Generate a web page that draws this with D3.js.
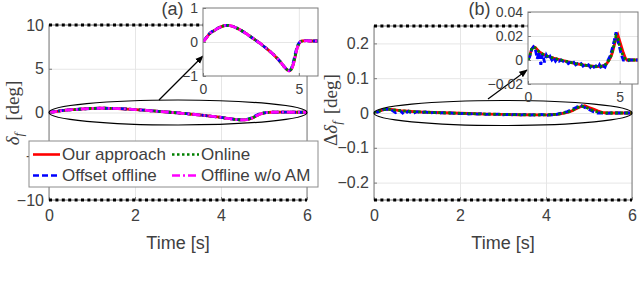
<!DOCTYPE html>
<html>
<head>
<meta charset="utf-8">
<script src="https://cdn.jsdelivr.net/npm/d3@7"></script>
<style>
  body { margin: 0; background: #fff; }
  text { font-family: "Liberation Sans", Arial, Helvetica, sans-serif; fill: #404040; }
</style>
</head>
<body>
<div id="chart"></div>
<script>
// time axes (s)
var timeA = [0,0.2,0.4,0.6,0.8,1.0,1.2,1.4,1.6,1.8,2.0,2.2,2.4,2.6,2.8,3.0,3.2,3.4,3.6,3.8,4.0,4.2,4.4,4.5,4.6,4.7,4.8,4.9,5.0,5.1,5.2,5.4,5.6,5.8,6.0];
// steering angle delta_f [deg], panel (a)
var ourA     = [0,0.14,0.27,0.34,0.41,0.46,0.49,0.48,0.45,0.40,0.34,0.27,0.19,0.11,0.03,-0.05,-0.14,-0.23,-0.33,-0.44,-0.56,-0.70,-0.82,-0.85,-0.81,-0.68,-0.45,-0.20,-0.06,0.01,0.03,0.04,0.03,0.03,0.03];
var onlineA  = [0,0.15,0.27,0.34,0.41,0.46,0.49,0.48,0.45,0.40,0.34,0.27,0.19,0.11,0.03,-0.05,-0.14,-0.23,-0.33,-0.44,-0.56,-0.70,-0.82,-0.85,-0.80,-0.66,-0.43,-0.19,-0.05,0.01,0.03,0.04,0.03,0.03,0.03];
var offsetA  = [0,0.16,0.28,0.35,0.41,0.46,0.49,0.48,0.45,0.40,0.34,0.27,0.19,0.11,0.03,-0.05,-0.14,-0.23,-0.33,-0.44,-0.56,-0.70,-0.82,-0.84,-0.78,-0.62,-0.38,-0.16,-0.04,0.02,0.03,0.04,0.03,0.03,0.03];
var noAmA    = [0,0.14,0.27,0.34,0.41,0.46,0.49,0.48,0.45,0.40,0.34,0.27,0.19,0.11,0.03,-0.05,-0.14,-0.23,-0.33,-0.44,-0.56,-0.70,-0.82,-0.85,-0.81,-0.68,-0.45,-0.20,-0.06,0.01,0.03,0.04,0.03,0.03,0.03];

// steering correction Delta delta_f [deg], panel (b)
var timeB   = [0,0.1,0.2,0.3,0.4,0.6,0.8,1.0,1.4,1.8,2.2,2.6,3.0,3.4,3.8,4.1,4.3,4.5,4.6,4.7,4.8,4.9,5.0,5.1,5.2,5.3,5.4,5.6,6.0];
var ourB    = [0,0.004,0.009,0.011,0.0105,0.007,0.005,0.0035,0.0015,0,-0.0015,-0.003,-0.004,-0.005,-0.0055,-0.005,-0.003,0.002,0.006,0.012,0.018,0.021,0.016,0.011,0.006,0.002,0,0,0];
var onlineB = [0,0.004,0.009,0.011,0.010,0.007,0.005,0.0035,0.0015,0,-0.0015,-0.003,-0.004,-0.005,-0.0055,-0.005,-0.003,0.002,0.007,0.013,0.020,0.018,0.012,0.007,0.003,0.001,0,0,0];
var timeOffB = [0,0.1,0.2,0.3,0.4,0.5,0.6,0.7,0.8,0.9,1.0,1.1,1.2,1.3,1.4,1.5,1.6,1.7,1.8,1.9,2.0,2.1,2.2,2.3,2.4,2.5,2.6,2.7,2.8,2.9,3.0,3.1,3.2,3.3,3.4,3.5,3.6,3.7,3.8,3.9,4.0,4.1,4.2,4.3,4.4,4.5,4.6,4.7,4.8,4.9,5.0,5.1,5.2,5.3,5.4,5.5,5.6,5.7,5.8,5.9,6.0];
var offsetB = [0,0.003,0.009,0.011,0.009,0.001,0.007,-0.004,0.005,-0.002,0.004,0.001,0.003,0.000,0.002,-0.001,0.001,-0.001,0.000,-0.001,-0.002,-0.001,-0.003,-0.002,-0.003,-0.002,-0.004,-0.003,-0.004,-0.003,-0.005,-0.004,-0.005,-0.004,-0.006,-0.004,-0.006,-0.005,-0.007,-0.004,-0.007,-0.005,-0.006,-0.002,0.001,0.004,0.010,0.016,0.023,0.016,0.010,0.004,0.000,0.000,-0.001,0.000,0.000,0.000,0.000,0.000,0.000];

var seriesNames = ["Our approach", "Online", "Offset offline", "Offline w/o AM"];
var seriesColors = ["#ff0000", "#008000", "#0000ff", "#ff00ff"];
var seriesDash = [null, "2.5,2.5", "6,3", "8,3,2,3"];

var xTicks = [0, 2, 4, 6];
var yTicksA = [-10, -5, 0, 5, 10];
var yTicksB = [-0.2, -0.1, 0, 0.1, 0.2];
var limitA = 10, limitB = 0.25;
var insetXTicks = [0, 5];
var insetYTicksA = [-1, 0, 1];
var insetYTicksB = [-0.02, 0, 0.02, 0.04];

var W = 640, H = 286;
var svg = d3.select("#chart").append("svg")
    .attr("width", W)
    .attr("height", H);

var defs = svg.append("defs");
defs.append("marker")
    .attr("id", "arrow")
    .attr("viewBox", "0 0 10 10")
    .attr("refX", 9).attr("refY", 5)
    .attr("markerWidth", 7).attr("markerHeight", 7)
    .attr("orient", "auto")
  .append("path")
    .attr("d", "M0,1 L10,5 L0,9 Z")
    .attr("fill", "#000");

var clipCount = 0;

// draws one set of axes (grid, box, ticks) and returns scales + plot group
function makeAxes(left, right, top, bottom, xDom, yDom, xT, yT, fmt, fs, xPad, opts) {
    var x = d3.scaleLinear().domain(xDom).range([left, right]);
    var y = d3.scaleLinear().domain(yDom).range([bottom, top]);
    var g = svg.append("g");

    if (opts.background) {
        g.append("rect")
            .attr("x", left).attr("y", top)
            .attr("width", right - left).attr("height", bottom - top)
            .attr("fill", "#fff");
    }

    // grid
    var gx = g.append("g")
        .attr("transform", "translate(0," + bottom + ")")
        .call(d3.axisBottom(x).tickValues(opts.gridX || xT).tickSize(-(bottom - top)).tickFormat(""));
    var gy = g.append("g")
        .attr("transform", "translate(" + left + ",0)")
        .call(d3.axisLeft(y).tickValues(opts.gridY || yT).tickSize(-(right - left)).tickFormat(""));
    [gx, gy].forEach(function(a) {
        a.select(".domain").remove();
        a.selectAll("line").attr("stroke", "#e6e6e6").attr("stroke-width", 1);
    });

    clipCount++;
    var cid = "clip" + clipCount;
    defs.append("clipPath").attr("id", cid)
      .append("rect")
        .attr("x", left).attr("y", top - 2)
        .attr("width", right - left).attr("height", bottom - top + 4);
    var plot = g.append("g").attr("clip-path", "url(#" + cid + ")");

    // box
    g.append("rect")
        .attr("x", left).attr("y", top)
        .attr("width", right - left).attr("height", bottom - top)
        .attr("fill", "none")
        .attr("stroke", "#7a7a7a")
        .attr("stroke-width", 1);

    var ax = g.append("g")
        .attr("transform", "translate(0," + bottom + ")")
        .call(d3.axisBottom(x).tickValues(xT).tickSizeInner(-3).tickSizeOuter(0).tickPadding(xPad).tickFormat(d3.format("d")));
    var ay = g.append("g")
        .attr("transform", "translate(" + left + ",0)")
        .call(d3.axisLeft(y).tickValues(yT).tickSizeInner(-3).tickSizeOuter(0).tickPadding(5).tickFormat(fmt));
    [ax, ay].forEach(function(a) {
        a.select(".domain").remove();
        a.selectAll("line").attr("stroke", "#7a7a7a");
        a.selectAll("text")
            .attr("font-size", fs)
            .attr("font-family", "Liberation Sans, Arial, sans-serif")
            .attr("fill", "#404040");
    });

    return { x: x, y: y, g: g, plot: plot };
}

function drawLine(ax, t, v, i, curve) {
    var line = d3.line()
        .x(function(d, k) { return ax.x(t[k]); })
        .y(function(d) { return ax.y(d); })
        .curve(curve);
    ax.plot.append("path")
        .datum(v)
        .attr("d", line)
        .attr("fill", "none")
        .attr("stroke", seriesColors[i])
        .attr("stroke-width", 2.8)
        .attr("stroke-dasharray", seriesDash[i]);
}

function drawLimits(ax, lim) {
    [lim, -lim].forEach(function(v) {
        ax.g.append("line")
            .attr("x1", ax.x(0)).attr("x2", ax.x(6))
            .attr("y1", ax.y(v)).attr("y2", ax.y(v))
            .attr("stroke", "#000")
            .attr("stroke-width", 3)
            .attr("stroke-dasharray", "3,3.4");
    });
}

function drawEllipse(ax) {
    var x0 = ax.x(0), x1 = ax.x(6);
    ax.g.append("ellipse")
        .attr("cx", (x0 + x1) / 2).attr("cy", ax.y(0))
        .attr("rx", (x1 - x0) / 2).attr("ry", 12.5)
        .attr("fill", "none")
        .attr("stroke", "#000")
        .attr("stroke-width", 1.2);
}

var curveA = d3.curveMonotoneX;

// ---------- panel (a)
var mainA = makeAxes(49, 307, 25, 200, [0, 6], [-limitA, limitA], xTicks, yTicksA, d3.format("d"), 16, 10, {});
drawLine(mainA, timeA, ourA, 0, curveA);
drawLine(mainA, timeA, offsetA, 2, curveA);
drawLine(mainA, timeA, onlineA, 1, curveA);
drawLine(mainA, timeA, noAmA, 3, curveA);
drawLimits(mainA, limitA);
drawEllipse(mainA);

// ---------- panel (b)
var mainB = makeAxes(374, 632, 26, 200, [0, 6], [-limitB, limitB], xTicks, yTicksB, function(d) { return d === 0 ? "0" : d3.format(".1f")(d); }, 16, 10, {});
drawLine(mainB, timeB, ourB, 0, d3.curveLinear);
drawLine(mainB, timeOffB, offsetB, 2, d3.curveLinear);
drawLine(mainB, timeB, onlineB, 1, d3.curveLinear);
drawLimits(mainB, limitB);
drawEllipse(mainB);

// arrows from ellipses to insets
svg.append("line")
    .attr("x1", 159).attr("y1", 100).attr("x2", 203).attr("y2", 56)
    .attr("stroke", "#000").attr("stroke-width", 1.2)
    .attr("marker-end", "url(#arrow)");
svg.append("line")
    .attr("x1", 488).attr("y1", 99).attr("x2", 527).attr("y2", 70)
    .attr("stroke", "#000").attr("stroke-width", 1.2)
    .attr("marker-end", "url(#arrow)");

// ---------- insets
var insA = makeAxes(203, 318, 8, 76, [0, 6], [-1, 1], insetXTicks, insetYTicksA, d3.format("d"), 14, 8,
    { background: true, gridX: [5], gridY: [0] });
drawLine(insA, timeA, ourA, 0, curveA);
drawLine(insA, timeA, offsetA, 2, curveA);
drawLine(insA, timeA, onlineA, 1, curveA);
drawLine(insA, timeA, noAmA, 3, curveA);

var insB = makeAxes(528, 638, 12, 84, [0, 6], [-0.02, 0.04], insetXTicks, insetYTicksB, function(d) { return d === 0 ? "0" : d3.format(".2f")(d); }, 14, 8.5,
    { background: true, gridX: [5], gridY: [0, 0.02] });
drawLine(insB, timeB, ourB, 0, d3.curveLinear);
drawLine(insB, timeOffB, offsetB, 2, d3.curveLinear);
drawLine(insB, timeB, onlineB, 1, d3.curveLinear);

// ---------- titles and axis labels
svg.append("text").attr("x", 172.5).attr("y", 15).attr("text-anchor", "middle")
    .attr("font-size", 18).text("(a)");
svg.append("text").attr("x", 479.5).attr("y", 15).attr("text-anchor", "middle")
    .attr("font-size", 18).text("(b)");

svg.append("text").attr("x", 178).attr("y", 249).attr("text-anchor", "middle")
    .attr("font-size", 18).text("Time [s]");
svg.append("text").attr("x", 503).attr("y", 249).attr("text-anchor", "middle")
    .attr("font-size", 18).text("Time [s]");

function yLabel(xp, yp, delta) {
    var t = svg.append("text")
        .attr("transform", "translate(" + xp + "," + yp + ") rotate(-90)")
        .attr("text-anchor", "middle")
        .style("font-family", "Liberation Serif, DejaVu Serif, serif")
        .attr("font-size", 19);
    if (delta) t.append("tspan").text("Δ");
    t.append("tspan").attr("font-style", "italic").text("δ");
    t.append("tspan").attr("font-style", "italic").attr("font-size", 13).attr("dy", 4).text("f");
    t.append("tspan").attr("dy", -4).attr("dx", delta ? 7 : 12).text("[deg]");
}
yLabel(19, 113, false);
yLabel(337, 110, true);

// ---------- legend (panel a)
var leg = svg.append("g");
leg.append("rect")
    .attr("x", 29).attr("y", 141).attr("width", 289).attr("height", 46)
    .attr("fill", "#fff").attr("stroke", "#8c8c8c").attr("stroke-width", 1);
var legPos = [[33, 154.5], [172, 154.5], [33, 175.5], [172, 175.5]];
var legOrder = [0, 1, 2, 3];
legOrder.forEach(function(i, k) {
    var p = legPos[k];
    leg.append("line")
        .attr("x1", p[0]).attr("x2", p[0] + 27)
        .attr("y1", p[1]).attr("y2", p[1])
        .attr("stroke", seriesColors[i])
        .attr("stroke-width", 2.6)
        .attr("stroke-dasharray", seriesDash[i]);
    leg.append("text")
        .attr("x", p[0] + 29).attr("y", p[1])
        .attr("dy", "0.35em")
        .attr("font-size", 17)
        .text(seriesNames[i]);
});
</script>
</body>
</html>
